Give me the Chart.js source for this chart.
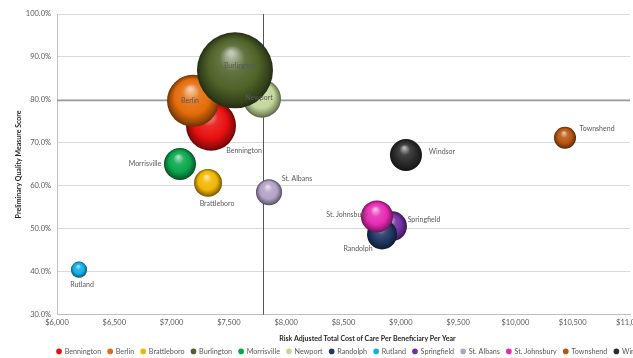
<!DOCTYPE html>
<html>
<head>
<meta charset="utf-8">
<script src="https://cdn.jsdelivr.net/npm/chart.js@4"></script>
<style>
  html, body { margin: 0; padding: 0; background: #fff; overflow: hidden; }
  #wrap { width: 700px; height: 358px; }
</style>
</head>
<body>
<div id="wrap"><canvas id="chart"></canvas></div>
<script>
const regions = ['Bennington', 'Berlin', 'Brattleboro', 'Burlington', 'Morrisville', 'Newport',
  'Randolph', 'Rutland', 'Springfield', 'St. Albans', 'St. Johnsbury', 'Townshend', 'Windsor'];
const costPerBeneficiary = [7344, 7187, 7318, 7553, 7073, 7789, 8836, 6192, 8923, 7850, 8792, 10433, 9045];
const qualityScore = [74.0, 79.8, 60.7, 86.9, 65.1, 80.3, 48.7, 40.5, 50.6, 58.5, 52.9, 71.2, 67.2];
const beneficiaries = [17300, 18700, 5400, 40000, 7100, 10000, 6200, 1800, 6200, 4700, 7100, 3350, 7100];
const xTicks = [6000, 6500, 7000, 7500, 8000, 8500, 9000, 9500, 10000, 10500, 11000];
const yTicks = [30, 40, 50, 60, 70, 80, 90, 100];
const avgCost = 7800;
const avgQuality = 80;
const xTitle = 'Risk Adjusted Total Cost of Care Per Beneficiary Per Year';

const colors = ['#e8100f', '#e46c0a', '#f2b600', '#4f6228', '#0aa64b', '#c4d79b',
  '#1f3864', '#12aee6', '#7030a0', '#b3a2c7', '#e62ab4', '#b85410', '#2b2b2b'];

// label offsets from bubble centre (px)
const labelPos = {
  'Bennington': [33, 25], 'Berlin': [-3, 0], 'Brattleboro': [9, 21], 'Burlington': [5, -5],
  'Morrisville': [-35, 0], 'Newport': [-3, -1], 'Randolph': [-24, 14], 'Rutland': [3, 15],
  'Springfield': [32, -7], 'St. Albans': [28, -14], 'St. Johnsbury': [-30, -2],
  'Townshend': [32, -9], 'Windsor': [36, -3]
};

const MAX_R = 38;
const maxBen = Math.max(...beneficiaries);

function mix(hex, target, t) {
  const n = parseInt(hex.slice(1), 16);
  const r = (n >> 16) & 255, g = (n >> 8) & 255, b = n & 255;
  const m = c => Math.round(c + (target - c) * t);
  return `rgb(${m(r)},${m(g)},${m(b)})`;
}

function sphere(ctx, base) {
  const chart = ctx.chart;
  const raw = ctx.raw;
  if (!chart.chartArea || !raw || !chart.scales.x) return base;
  const cx = chart.scales.x.getPixelForValue(raw.x);
  const cy = chart.scales.y.getPixelForValue(raw.y);
  const r = raw.r;
  const g = chart.ctx.createRadialGradient(cx - r * 0.1, cy - r * 0.45, r * 0.05, cx, cy, r);
  g.addColorStop(0, mix(base, 255, 0.65));
  g.addColorStop(0.3, mix(base, 255, 0.12));
  g.addColorStop(0.65, base);
  g.addColorStop(0.9, mix(base, 0, 0.35));
  g.addColorStop(1, mix(base, 0, 0.55));
  return g;
}

const datasets = regions.map((name, i) => ({
  label: name,
  data: [{ x: costPerBeneficiary[i], y: qualityScore[i], r: MAX_R * Math.sqrt(beneficiaries[i] / maxBen) }],
  backgroundColor: ctx => sphere(ctx, colors[i]),
  borderWidth: 0,
  // larger bubbles drawn first, like Excel
  order: -beneficiaries[i]
}));

const refLines = {
  id: 'refLines',
  afterLayout(chart) {
    // the original legend runs off the right edge, so nudge it right
    chart.legend.left += 38;
    chart.legend.right += 38;
  },
  beforeDatasetsDraw(chart) {
    const { ctx, chartArea: a, scales: { x, y } } = chart;
    ctx.save();
    ctx.strokeStyle = '#9a9a9a';
    ctx.lineWidth = 1.5;
    const py = Math.round(y.getPixelForValue(avgQuality)) + 0.5;
    ctx.beginPath(); ctx.moveTo(a.left, py); ctx.lineTo(a.right, py); ctx.stroke();
    ctx.strokeStyle = '#555';
    ctx.lineWidth = 1;
    const px = Math.round(x.getPixelForValue(avgCost)) + 0.5;
    ctx.beginPath(); ctx.moveTo(px, a.top); ctx.lineTo(px, a.bottom); ctx.stroke();
    ctx.restore();
  }
};

const bubbleLabels = {
  id: 'bubbleLabels',
  afterDatasetsDraw(chart) {
    const ctx = chart.ctx;
    ctx.save();
    ctx.font = '7px Lato';
    ctx.fillStyle = '#595959';
    ctx.textAlign = 'center';
    ctx.textBaseline = 'middle';
    chart.data.datasets.forEach((ds, i) => {
      const el = chart.getDatasetMeta(i).data[0];
      const off = labelPos[ds.label] || [0, 0];
      ctx.fillText(ds.label, el.x + off[0], el.y + off[1]);
    });
    // x axis title, sits a little right of centre in the original
    const a = chart.chartArea;
    ctx.font = 'bold 7px Lato';
    ctx.fillStyle = '#262626';
    ctx.fillText(xTitle, (a.left + a.right) / 2 + 24, a.bottom + 24);
    ctx.restore();
  }
};

new Chart(document.getElementById('chart'), {
  type: 'bubble',
  data: { datasets },
  plugins: [refLines, bubbleLabels],
  options: {
    responsive: true,
    maintainAspectRatio: false,
    animation: false,
    events: [],
    layout: { autoPadding: false, padding: { left: 0, top: 14, right: 70, bottom: -7 } },
    plugins: {
      tooltip: { enabled: false },
      legend: {
        position: 'bottom',
        labels: {
          font: { family: 'Lato', size: 7.2 },
          color: '#595959',
          usePointStyle: true,
          pointStyle: 'circle',
          boxWidth: 4,
          boxHeight: 4,
          padding: 7,
          sort: (a, b) => a.datasetIndex - b.datasetIndex,
          generateLabels(chart) {
            return chart.data.datasets.map((ds, i) => ({
              text: ds.label,
              fillStyle: colors[i],
              strokeStyle: colors[i],
              lineWidth: 0,
              pointStyle: 'circle',
              fontColor: '#595959',
              datasetIndex: i
            }));
          }
        }
      }
    },
    scales: {
      x: {
        type: 'linear',
        min: xTicks[0],
        max: xTicks[xTicks.length - 1],
        afterBuildTicks: s => { s.ticks = xTicks.map(v => ({ value: v })); },
        afterFit: s => { s.height = 26; },
        ticks: {
          font: { family: 'Lato', size: 7.5 },
          color: '#595959',
          maxRotation: 0,
          padding: 3,
          callback: v => '$' + v.toLocaleString('en-US')
        },
        grid: { display: false, drawTicks: false },
        border: { display: true, color: '#bfbfbf' }
      },
      y: {
        type: 'linear',
        min: yTicks[0],
        max: yTicks[yTicks.length - 1],
        afterBuildTicks: s => { s.ticks = yTicks.map(v => ({ value: v })); },
        afterFit: s => { s.width = 57; },
        ticks: {
          font: { family: 'Lato', size: 7.5 },
          color: '#595959',
          padding: 6,
          callback: v => v.toFixed(1) + '%'
        },
        grid: { color: '#d9d9d9', drawTicks: false },
        border: { display: true, color: '#bfbfbf' },
        title: {
          display: true,
          text: 'Preliminary Quality Measure Score',
          font: { family: 'Lato', size: 7, weight: 'bold' },
          color: '#262626',
          padding: { top: 15, bottom: 0 }
        }
      }
    }
  }
});
</script>
</body>
</html>
